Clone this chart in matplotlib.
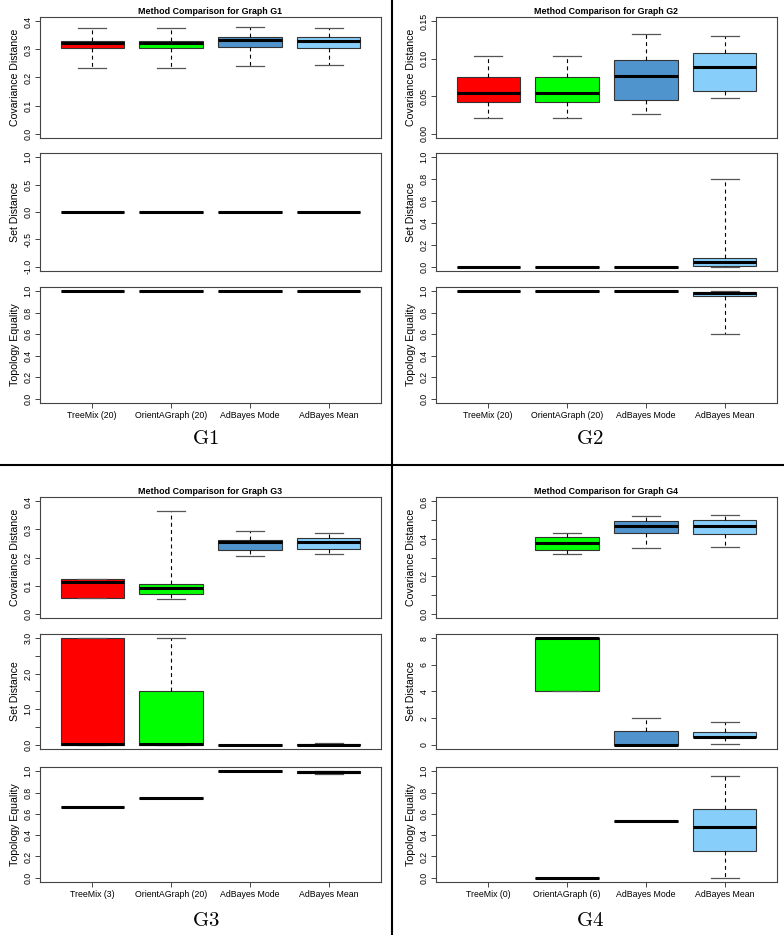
import matplotlib.pyplot as plt
from matplotlib.lines import Line2D

plt.rcParams['font.family'] = ['Liberation Sans', 'DejaVu Sans']
plt.rcParams['mathtext.fontset'] = 'cm'

W, H = 784, 935
box_colors = ['#FF0000', '#00FF00', '#4F94CD', '#87CEFA']

# === Data: five-number summaries (whisker low, q1, median, q3, whisker high) ===
g1_labels = ['TreeMix (20)', 'OrientAGraph (20)', 'AdBayes Mode', 'AdBayes Mean']
g1_cov = [[0.234, 0.304, 0.322, 0.331, 0.376],
          [0.234, 0.304, 0.323, 0.331, 0.376],
          [0.240, 0.309, 0.334, 0.346, 0.380],
          [0.246, 0.304, 0.332, 0.343, 0.377]]
g1_set = [[0, 0, 0, 0, 0]] * 4
g1_topo = [[1, 1, 1, 1, 1]] * 4

g2_labels = ['TreeMix (20)', 'OrientAGraph (20)', 'AdBayes Mode', 'AdBayes Mean']
g2_cov = [[0.021, 0.042, 0.054, 0.075, 0.104],
          [0.021, 0.042, 0.054, 0.075, 0.104],
          [0.026, 0.045, 0.077, 0.098, 0.133],
          [0.048, 0.057, 0.089, 0.108, 0.131]]
g2_set = [[0, 0, 0, 0, 0],
          [0, 0, 0, 0, 0],
          [0, 0, 0, 0, 0],
          [0.0, 0.009, 0.038, 0.079, 0.80]]
g2_topo = [[1, 1, 1, 1, 1],
           [1, 1, 1, 1, 1],
           [1, 1, 1, 1, 1],
           [0.60, 0.96, 0.98, 0.995, 1.0]]

g3_labels = ['TreeMix (3)', 'OrientAGraph (20)', 'AdBayes Mode', 'AdBayes Mean']
g3_cov = [[0.054, 0.054, 0.114, 0.124, 0.124],
          [0.051, 0.070, 0.090, 0.104, 0.367],
          [0.207, 0.227, 0.255, 0.264, 0.295],
          [0.211, 0.230, 0.255, 0.269, 0.289]]
g3_set = [[0, 0, 0.02, 3.0, 3.0],
          [0, 0, 0.02, 1.51, 3.0],
          [0, 0, 0, 0, 0],
          [0, 0, 0, 0.01, 0.06]]
g3_topo = [[0.669, 0.669, 0.669, 0.669, 0.669],
           [0.75, 0.75, 0.75, 0.75, 0.75],
           [1, 1, 1, 1, 1],
           [0.975, 0.985, 0.99, 1.0, 1.0]]

g4_labels = ['TreeMix (0)', 'OrientAGraph (6)', 'AdBayes Mode', 'AdBayes Mean']
g4_cov = [None,
          [0.318, 0.341, 0.376, 0.412, 0.433],
          [0.353, 0.430, 0.468, 0.496, 0.520],
          [0.358, 0.426, 0.470, 0.501, 0.527]]
g4_set = [None,
          [4.0, 4.0, 8.0, 8.0, 8.0],
          [0, 0, 0, 1.0, 2.0],
          [0.05, 0.55, 0.6, 0.98, 1.73]]
g4_topo = [None,
           [0, 0, 0, 0, 0],
           [0.531, 0.531, 0.531, 0.531, 0.531],
           [0.0, 0.25, 0.481, 0.647, 0.96]]

# === Axis scales: limits, tick positions, tick labels ===
cov_ticks_04 = ([0, 0.1, 0.2, 0.3, 0.4], ['0.0', '0.1', '0.2', '0.3', '0.4'])
cov_ticks_015 = ([0, 0.05, 0.10, 0.15], ['0.00', '0.05', '0.10', '0.15'])
cov_ticks_06 = ([0, 0.1, 0.2, 0.3, 0.4, 0.5, 0.6], ['0.0', '', '0.2', '', '0.4', '', '0.6'])
set_ticks_g1 = ([-1, -0.5, 0, 0.5, 1], ['-1.0', '-0.5', '0.0', '0.5', '1.0'])
unit_ticks = ([0, 0.2, 0.4, 0.6, 0.8, 1.0], ['0.0', '0.2', '0.4', '0.6', '0.8', '1.0'])
set_ticks_g3 = ([0, 0.5, 1, 1.5, 2, 2.5, 3], ['0.0', '', '1.0', '', '2.0', '', '3.0'])
set_ticks_g4 = ([0, 2, 4, 6, 8], ['0', '2', '4', '6', '8'])

panels = [
    ('G1', g1_labels, [(g1_cov, (0, 0.4), cov_ticks_04), (g1_set, (-1, 1), set_ticks_g1), (g1_topo, (0, 1), unit_ticks)], 0, 0),
    ('G2', g2_labels, [(g2_cov, (0, 0.15), cov_ticks_015), (g2_set, (0, 1), unit_ticks), (g2_topo, (0, 1), unit_ticks)], 1, 0),
    ('G3', g3_labels, [(g3_cov, (0, 0.4), cov_ticks_04), (g3_set, (0, 3), set_ticks_g3), (g3_topo, (0, 1), unit_ticks)], 0, 1),
    ('G4', g4_labels, [(g4_cov, (0, 0.6), cov_ticks_06), (g4_set, (0, 8), set_ticks_g4), (g4_topo, (0, 1), unit_ticks)], 1, 1),
]
ylabels = ['Covariance Distance', 'Set Distance', 'Topology Equality']

# pixel layout
col_x = [(40, 381), (436, 777)]
row_y = [[(17, 138), (153, 271), (287, 403)],
         [(497, 618), (634, 749), (767, 882)]]
title_y = [11, 491]
glabel_y = [439, 921]
glabel_x = [206, 590]

fig = plt.figure(figsize=(W / 100, H / 100), dpi=100)


def add_ax(x0, y0, x1, y1):
    return fig.add_axes([x0 / W, 1 - y1 / H, (x1 - x0) / W, (y1 - y0) / H])


def draw_boxes(ax, stats):
    pos = [i + 1 for i, s in enumerate(stats) if s is not None]
    bstats = [dict(whislo=s[0], q1=s[1], med=s[2], q3=s[3], whishi=s[4], fliers=[])
              for s in stats if s is not None]
    art = ax.bxp(bstats, positions=pos, widths=0.8, capwidths=0.35,
                 patch_artist=True, showfliers=False, manage_ticks=False,
                 boxprops=dict(edgecolor='#333333', linewidth=0.8),
                 medianprops=dict(color='black', linewidth=2.2, solid_capstyle='butt'),
                 whiskerprops=dict(color='black', linewidth=0.8, linestyle=(0, (3.5, 3))),
                 capprops=dict(color='#555555', linewidth=0.9))
    for patch, p in zip(art['boxes'], pos):
        patch.set_facecolor(box_colors[p - 1])


for name, labels, metrics, c, r in panels:
    x0, x1 = col_x[c]
    for k, (stats, (lo, hi), (ticks, tlabels)) in enumerate(metrics):
        y0, y1 = row_y[r][k]
        ax = add_ax(x0, y0, x1, y1)
        draw_boxes(ax, stats)
        pad = 0.04 * (hi - lo)
        ax.set_ylim(lo - pad, hi + pad)
        ax.set_xlim(0.34, 4.66)
        ax.set_yticks(ticks, tlabels, rotation=90, ha='center', va='center', fontsize=6.3)
        ax.tick_params(axis='y', length=3.6, width=0.7, color='#444444', pad=5)
        if k == 2:
            ax.set_xticks([1, 2, 3, 4], labels, fontsize=6.3)
            ax.tick_params(axis='x', length=3.6, width=0.7, color='#444444', pad=2)
        else:
            ax.set_xticks([])
        for sp in ax.spines.values():
            sp.set_color('#444444')
            sp.set_linewidth(0.8)
        ax.set_ylabel(ylabels[k], fontsize=7.6)
        ax.yaxis.set_label_coords(-0.073, 0.5)
        ax.yaxis.label.set_verticalalignment('center')
    fig.text((x0 + x1) / 2 / W, 1 - title_y[r] / H, f'Method Comparison for Graph {name}',
             ha='center', va='center', fontsize=6.4, fontweight='bold')
    fig.text(glabel_x[c] / W, 1 - glabel_y[r] / H, r'$\mathrm{%s}$' % name,
             ha='center', va='center', fontsize=15)

# === Panel dividers ===
fig.add_artist(Line2D([392 / W, 392 / W], [0, 1], transform=fig.transFigure, color='black', lw=1.5))
fig.add_artist(Line2D([0, 1], [1 - 465 / H, 1 - 465 / H], transform=fig.transFigure, color='black', lw=1.5))

fig.savefig('out.png', dpi=100)
